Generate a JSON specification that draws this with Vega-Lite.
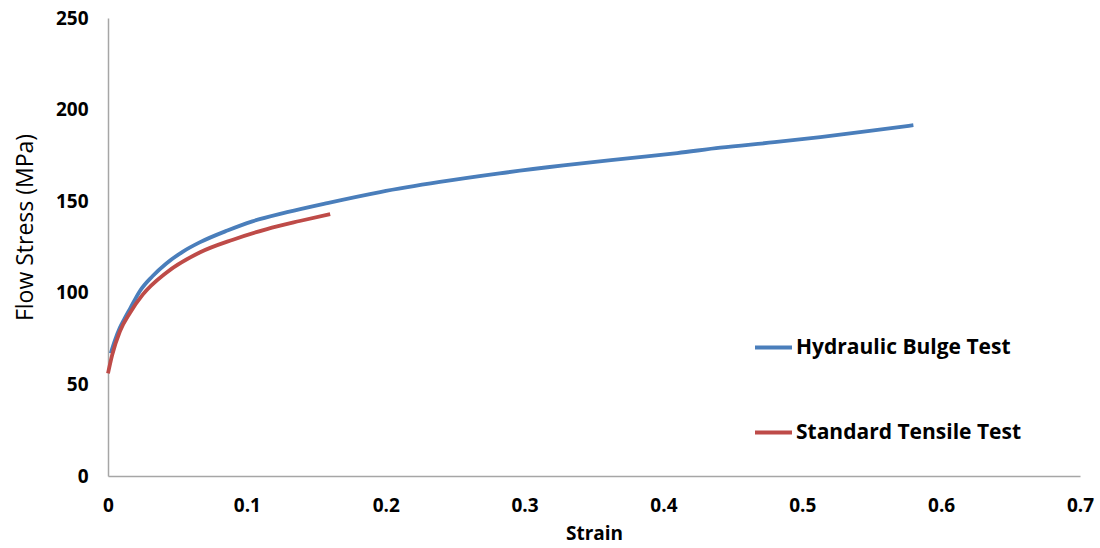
{
  "$schema": "https://vega.github.io/schema/vega-lite/v6.json",
  "autosize": "none",
  "width": 972,
  "height": 458,
  "padding": {"left": 108, "top": 18, "right": 20, "bottom": 72},
  "background": "white",
  "config": {
    "view": {"stroke": null},
    "font": "Open Sans"
  },
  "data": {
    "values": [
      {"strain": 0.002, "stress": 67, "test": "Hydraulic Bulge Test"},
      {"strain": 0.005, "stress": 74, "test": "Hydraulic Bulge Test"},
      {"strain": 0.0086, "stress": 81, "test": "Hydraulic Bulge Test"},
      {"strain": 0.012, "stress": 86, "test": "Hydraulic Bulge Test"},
      {"strain": 0.016, "stress": 91.5, "test": "Hydraulic Bulge Test"},
      {"strain": 0.023, "stress": 101, "test": "Hydraulic Bulge Test"},
      {"strain": 0.032, "stress": 109, "test": "Hydraulic Bulge Test"},
      {"strain": 0.042, "stress": 116, "test": "Hydraulic Bulge Test"},
      {"strain": 0.054, "stress": 122.5, "test": "Hydraulic Bulge Test"},
      {"strain": 0.066, "stress": 127.5, "test": "Hydraulic Bulge Test"},
      {"strain": 0.086, "stress": 134, "test": "Hydraulic Bulge Test"},
      {"strain": 0.104, "stress": 139, "test": "Hydraulic Bulge Test"},
      {"strain": 0.129, "stress": 144, "test": "Hydraulic Bulge Test"},
      {"strain": 0.158, "stress": 149, "test": "Hydraulic Bulge Test"},
      {"strain": 0.196, "stress": 155, "test": "Hydraulic Bulge Test"},
      {"strain": 0.239, "stress": 160.5, "test": "Hydraulic Bulge Test"},
      {"strain": 0.282, "stress": 165.2, "test": "Hydraulic Bulge Test"},
      {"strain": 0.328, "stress": 169.5, "test": "Hydraulic Bulge Test"},
      {"strain": 0.376, "stress": 173.5, "test": "Hydraulic Bulge Test"},
      {"strain": 0.41, "stress": 176.3, "test": "Hydraulic Bulge Test"},
      {"strain": 0.441, "stress": 179.2, "test": "Hydraulic Bulge Test"},
      {"strain": 0.48, "stress": 182.2, "test": "Hydraulic Bulge Test"},
      {"strain": 0.513, "stress": 185, "test": "Hydraulic Bulge Test"},
      {"strain": 0.55, "stress": 188.5, "test": "Hydraulic Bulge Test"},
      {"strain": 0.58, "stress": 191.5, "test": "Hydraulic Bulge Test"},
      {"strain": 0.0, "stress": 56, "test": "Standard Tensile Test"},
      {"strain": 0.003, "stress": 66, "test": "Standard Tensile Test"},
      {"strain": 0.0086, "stress": 79, "test": "Standard Tensile Test"},
      {"strain": 0.0158, "stress": 89, "test": "Standard Tensile Test"},
      {"strain": 0.025, "stress": 99, "test": "Standard Tensile Test"},
      {"strain": 0.042, "stress": 111, "test": "Standard Tensile Test"},
      {"strain": 0.066, "stress": 122, "test": "Standard Tensile Test"},
      {"strain": 0.09, "stress": 129, "test": "Standard Tensile Test"},
      {"strain": 0.1145, "stress": 134.8, "test": "Standard Tensile Test"},
      {"strain": 0.138, "stress": 139.2, "test": "Standard Tensile Test"},
      {"strain": 0.16, "stress": 143, "test": "Standard Tensile Test"}
    ]
  },
  "mark": {"type": "line", "strokeWidth": 3.8, "interpolate": "monotone"},
  "encoding": {
    "x": {
      "field": "strain",
      "type": "quantitative",
      "scale": {"domain": [0, 0.7], "nice": false},
      "axis": {
        "title": "Strain",
        "values": [0, 0.1, 0.2, 0.3, 0.4, 0.5, 0.6, 0.7],
        "format": ".1~f",
        "grid": false,
        "ticks": false,
        "domainColor": "#a6a6a6",
        "domainWidth": 1.5,
        "labelFont": "Open Sans",
        "labelFontWeight": "bold",
        "labelFontSize": 19,
        "labelColor": "#000000",
        "labelPadding": 20,
        "labelFlush": false,
        "titleFont": "Open Sans",
        "titleFontWeight": "bold",
        "titleFontSize": 19,
        "titleColor": "#000000",
        "titlePadding": 9
      }
    },
    "y": {
      "field": "stress",
      "type": "quantitative",
      "scale": {"domain": [0, 250], "nice": false},
      "axis": {
        "title": "Flow Stress (MPa)",
        "values": [0, 50, 100, 150, 200, 250],
        "grid": false,
        "ticks": false,
        "domainColor": "#a6a6a6",
        "domainWidth": 1.5,
        "labelFont": "Open Sans",
        "labelFontWeight": "bold",
        "labelFontSize": 19,
        "labelColor": "#000000",
        "labelPadding": 20,
        "labelFlush": false,
        "titleFont": "Open Sans",
        "titleFontWeight": "normal",
        "titleFontSize": 23,
        "titleColor": "#000000",
        "titlePadding": 18,
        "titleY": 209
      }
    },
    "color": {
      "field": "test",
      "type": "nominal",
      "scale": {
        "domain": ["Hydraulic Bulge Test", "Standard Tensile Test"],
        "range": ["#4A7EBB", "#BE4B48"]
      },
      "legend": {
        "title": null,
        "orient": "none",
        "legendX": 645,
        "legendY": 309,
        "symbolType": "stroke",
        "symbolSize": 1369,
        "symbolStrokeWidth": 3.8,
        "labelFont": "Open Sans",
        "labelFontWeight": "bold",
        "labelFontSize": 21,
        "labelColor": "#000000",
        "labelOffset": 2,
        "labelLimit": 400,
        "rowPadding": 54
      }
    }
  }
}
